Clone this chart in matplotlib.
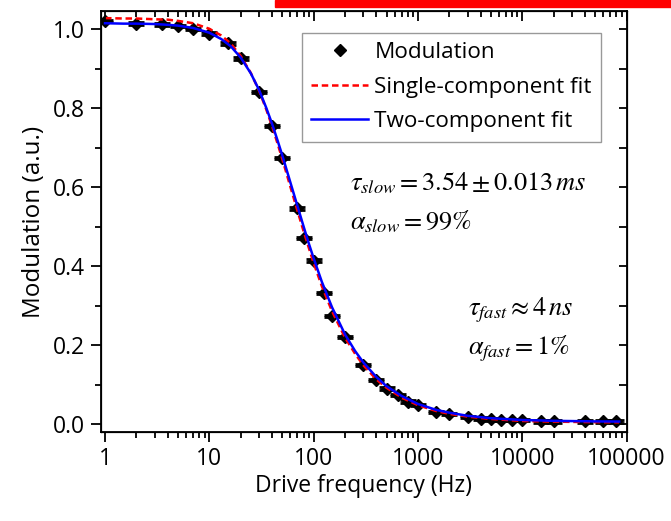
import matplotlib
matplotlib.use('Agg')
import matplotlib.pyplot as plt
from matplotlib.patches import Rectangle
from matplotlib.lines import Line2D
from matplotlib.ticker import LogLocator, MultipleLocator, NullFormatter

plt.rcParams['font.family'] = ['Open Sans', 'DejaVu Sans']
plt.rcParams['mathtext.fontset'] = 'stix'

# measured points (Hz, a.u.)
freq = [1, 2, 3.5, 5, 7, 10, 15, 20, 30, 40, 50, 70, 80, 100, 125, 150, 200,
        300, 400, 500, 650, 800, 1000, 1500, 2000, 3000, 4000, 5000, 6300,
        8000, 10000, 15000, 20000, 40000, 60000, 80000]
modulation = [1.020, 1.014, 1.012, 1.008, 1.000, 0.989, 0.964, 0.926, 0.841,
              0.755, 0.674, 0.546, 0.471, 0.414, 0.332, 0.273, 0.221, 0.149,
              0.112, 0.090, 0.073, 0.057, 0.048, 0.031, 0.025, 0.018, 0.014,
              0.012, 0.010, 0.010, 0.010, 0.007, 0.007, 0.007, 0.007, 0.007]
mod_err = 0.003

# fit curves
fit_freq = [1, 1.5, 2, 3, 4, 5, 7, 10, 13, 16, 20, 25, 30, 35, 40, 45, 50, 60,
            70, 80, 90, 100, 120, 150, 200, 250, 300, 400, 500, 700, 1000,
            1500, 2000, 3000, 5000, 10000, 20000, 50000, 85000]
single_fit = [1.028, 1.027, 1.027, 1.025, 1.024, 1.021, 1.015, 1.001, 0.984,
              0.964, 0.932, 0.889, 0.844, 0.798, 0.754, 0.711, 0.672, 0.600,
              0.540, 0.489, 0.446, 0.408, 0.349, 0.286, 0.219, 0.178, 0.149,
              0.113, 0.092, 0.067, 0.048, 0.033, 0.026, 0.019, 0.013, 0.008,
              0.0062, 0.0049, 0.0045]
two_fit = [1.015, 1.014, 1.014, 1.013, 1.011, 1.009, 1.003, 0.991, 0.975,
           0.957, 0.928, 0.888, 0.846, 0.802, 0.760, 0.719, 0.681, 0.611,
           0.552, 0.501, 0.457, 0.420, 0.360, 0.296, 0.227, 0.185, 0.156,
           0.119, 0.096, 0.071, 0.051, 0.036, 0.029, 0.021, 0.015, 0.0105,
           0.0083, 0.0069, 0.0065]

xticks = [1, 10, 100, 1000, 10000, 100000]
xtick_labels = ['1', '10', '100', '1000', '10000', '100000']
yticks = [0.0, 0.2, 0.4, 0.6, 0.8, 1.0]
ytick_labels = ['0.0', '0.2', '0.4', '0.6', '0.8', '1.0']

fig = plt.figure(figsize=(6.71, 5.21), dpi=100)
ax = fig.add_axes([0.1498, 0.1708, 0.7839, 0.8081])

ax.errorbar(freq, modulation, yerr=mod_err, fmt='D', color='black', ms=6.3,
            capsize=6, capthick=2, elinewidth=1.5, zorder=2)
ax.plot(fit_freq, single_fit, color='red', lw=1.8, dashes=(2.6, 1.5), zorder=3)
ax.plot(fit_freq, two_fit, color='blue', lw=1.8, zorder=4)

ax.set_xscale('log')
ax.set_xlim(0.905, 100000)
ax.set_ylim(-0.02, 1.046)

ax.set_xticks(xticks)
ax.set_xticklabels(xtick_labels)
ax.xaxis.set_minor_locator(LogLocator(base=10, subs=range(2, 10), numticks=20))
ax.xaxis.set_minor_formatter(NullFormatter())
ax.set_yticks(yticks)
ax.set_yticklabels(ytick_labels)
ax.yaxis.set_minor_locator(MultipleLocator(0.1))

ax.tick_params(which='major', direction='out', length=7, width=1.3,
               labelsize=16.5, pad=4)
ax.tick_params(which='minor', direction='out', length=4, width=1.3)
for s in ax.spines.values():
    s.set_linewidth(1.3)

# mirrored ticks pointing inward on top and right
top = ax.twiny()
top.set_xscale('log')
top.set_xlim(ax.get_xlim())
top.set_xticks(xticks)
top.xaxis.set_minor_locator(LogLocator(base=10, subs=range(2, 10), numticks=20))
top.tick_params(which='both', direction='in', width=1.3, labeltop=False)
top.tick_params(which='major', length=7)
top.tick_params(which='minor', length=4)
right = ax.twinx()
right.set_ylim(ax.get_ylim())
right.set_yticks(yticks)
right.yaxis.set_minor_locator(MultipleLocator(0.1))
right.tick_params(which='both', direction='in', width=1.3, length=6,
                  labelright=False)

ax.set_xlabel('Drive frequency (Hz)', fontsize=16.5, labelpad=2)
ax.set_ylabel('Modulation (a.u.)', fontsize=17.5, labelpad=5)

handles = [
    Line2D([], [], marker='D', ms=6, color='black', ls='none'),
    Line2D([], [], color='red', lw=1.8, dashes=(2.6, 1.5)),
    Line2D([], [], color='blue', lw=1.8),
]
labels = ['Modulation', 'Single-component fit', 'Two-component fit']
leg = ax.legend(handles, labels, loc='upper left', bbox_to_anchor=(0.383, 0.948),
                borderaxespad=0, fancybox=False, edgecolor='#999999',
                framealpha=1, fontsize=16.2, handlelength=2.5,
                handletextpad=0.3, borderpad=0.42, labelspacing=0.6)
leg.get_frame().set_linewidth(1.0)

ax.text(0.474, 0.591, r'$\tau_{slow} = 3.54 \pm 0.013\,ms$', transform=ax.transAxes,
        fontsize=19, va='center', ha='left')
ax.text(0.474, 0.499, r'$\alpha_{slow} = 99\%$', transform=ax.transAxes,
        fontsize=19, va='center', ha='left')
ax.text(0.699, 0.29, r'$\tau_{fast} \approx 4\,ns$', transform=ax.transAxes,
        fontsize=19, va='center', ha='left')
ax.text(0.699, 0.198, r'$\alpha_{fast} = 1\%$', transform=ax.transAxes,
        fontsize=19, va='center', ha='left')

fig.patches.append(Rectangle((275 / 671, 1 - 7 / 521), 396 / 671, 7 / 521,
                             transform=fig.transFigure, color='#ff0000',
                             zorder=10))

fig.savefig('out.png', dpi=100)
